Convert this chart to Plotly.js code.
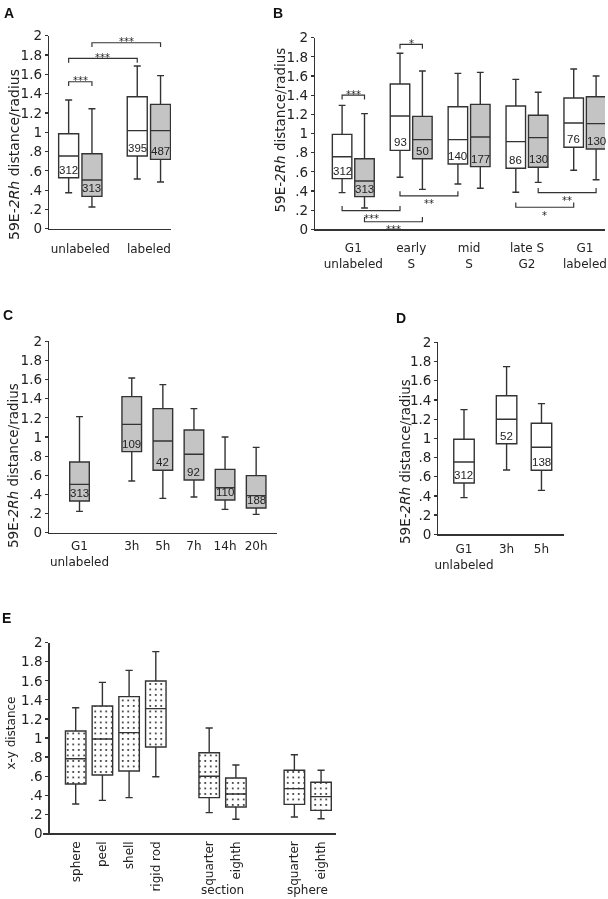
<!DOCTYPE html>
<html><head><meta charset="utf-8">
<script src="https://cdn.plot.ly/plotly-3.0.1.min.js"></script>
<style>html,body{margin:0;padding:0;background:#fff} #chart{filter:grayscale(1)}</style>
</head><body><div id="chart" style="width:608px;height:899px"></div>
<script>
// ---------------- DATA ----------------
// each box: [lower whisker, q1, median, q3, upper whisker]
const A_categories = ['unlabeled', 'labeled'];
const A_white = [[0.373, 0.528, 0.753, 0.984, 1.333], [0.515, 0.753, 1.016, 1.368, 1.686]];
const A_gray  = [[0.225, 0.335, 0.504, 0.777, 1.243], [0.484, 0.718, 1.016, 1.288, 1.586]];
const A_white_n = [312, 395];
const A_gray_n  = [313, 487];
// [fromGroup, fromSeries, toGroup, toSeries, level, label, side]
const A_brackets = [[0, 0, 0, 1, 1.523, '***', 'top'], [0, 0, 1, 0, 1.765, '***', 'top'], [0, 1, 1, 1, 1.927, '***', 'top']];

const B_categories = ['G1<br>unlabeled', 'early<br>S', 'mid<br>S', 'late S<br>G2', 'G1<br>labeled'];
const B_white = [[0.383, 0.529, 0.758, 0.991, 1.294], [0.543, 0.824, 1.183, 1.517, 1.837], [0.473, 0.682, 0.936, 1.28, 1.628], [0.386, 0.637, 0.915, 1.287, 1.565], [0.616, 0.856, 1.11, 1.37, 1.673]];
const B_gray  = [[0.223, 0.341, 0.504, 0.737, 1.207], [0.417, 0.737, 0.936, 1.179, 1.652], [0.428, 0.654, 0.963, 1.304, 1.638], [0.49, 0.647, 0.957, 1.19, 1.43], [0.518, 0.838, 1.103, 1.384, 1.6]];
const B_white_n = [312, 93, 140, 86, 76];
const B_gray_n  = [313, 50, 177, 130, 130];
const B_brackets = [[0, 0, 0, 1, 1.40, '***', 'top'], [1, 0, 1, 1, 1.93, '*', 'top'],
  [0, 0, 1, 0, 0.194, '***', 'bottom'], [0, 1, 1, 1, 0.079, '***', 'bottom'], [1, 0, 2, 0, 0.348, '**', 'bottom'],
  [3, 0, 4, 0, 0.23, '*', 'bottom'], [3, 1, 4, 1, 0.382, '**', 'bottom']];

const C_categories = ['G1<br>unlabeled', '3h', '5h', '7h', '14h', '20h'];
const C_gray = [[0.223, 0.331, 0.505, 0.739, 1.213], [0.54, 0.847, 1.132, 1.422, 1.617], [0.359, 0.652, 0.958, 1.296, 1.547], [0.373, 0.55, 0.819, 1.073, 1.296], [0.244, 0.341, 0.47, 0.662, 1.0], [0.192, 0.258, 0.387, 0.596, 0.892]];
const C_n = [313, 109, 42, 92, 110, 188];

const D_categories = ['G1<br>unlabeled', '3h', '5h'];
const D_white = [[0.382, 0.535, 0.753, 0.99, 1.299], [0.67, 0.944, 1.198, 1.444, 1.747], [0.458, 0.667, 0.906, 1.156, 1.361]];
const D_n = [312, 52, 138];

const E_categories = ['sphere', 'peel', 'shell', 'rigid rod', 'quarter', 'eighth', 'quarter', 'eighth'];
const E_groups = [0, 0, 0, 0, 1, 1, 2, 2];
const E_groupLabels = ['', 'section', 'sphere'];
const E_stats = [[0.308, 0.517, 0.783, 1.073, 1.318], [0.346, 0.612, 0.99, 1.336, 1.584], [0.374, 0.654, 1.056, 1.434, 1.71], [0.594, 0.906, 1.308, 1.598, 1.906], [0.217, 0.374, 0.598, 0.846, 1.105], [0.147, 0.276, 0.413, 0.58, 0.717], [0.171, 0.304, 0.469, 0.661, 0.825], [0.153, 0.241, 0.385, 0.535, 0.661]];

const Y_tickVals = [0, 0.2, 0.4, 0.6, 0.8, 1, 1.2, 1.4, 1.6, 1.8, 2];
const Y_tickText = ['0', '.2', '.4', '.6', '.8', '1', '1.2', '1.4', '1.6', '1.8', '2'];

// ---------------- STYLE / GEOMETRY ----------------
const W = 608, H = 899;
const LINE = '#333333', TXT = '#222222', GRAY = '#c4c4c4';
const SANS = 'DejaVu Sans', HELV = 'Liberation Sans';
const px = v => v / W, py = v => 1 - v / H;

const P = {
  A: {x0: 49, x1: 171, y0: 35.7, y1: 228.7, ticklen: 9},
  B: {x0: 315, x1: 605, y0: 37.7, y1: 229.3, ticklen: 7},
  C: {x0: 49, x1: 277, y0: 341.3, y1: 532.7, ticklen: 2},
  D: {x0: 438.3, x1: 564.3, y0: 342.3, y1: 534.3, ticklen: 3},
  E: {x0: 43, x1: 336, y0: 642.7, y1: 833.3, ticklen: 2, yaxisX: 48.3}
};
const posA = (g, s) => 31.3 + 68.6 * g + (s === undefined ? 0 : (s ? 11.65 : -11.65));
const posB = (g, s) => 38.3 + 57.9 * g + (s === undefined ? 0 : (s ? 11.2 : -11.2));
const posC = i => 30.5 + 31.1 * (i + (i > 0 ? 0.68 : 0));
const posD = i => 25.7 + 34.9 * (i + (i > 0 ? 0.22 : 0));
const E_shift = [0, 1, 2.19];
const posE = k => 32.7 + 26.7 * (k + E_shift[E_groups[k]]);

const traces = [];
const annotations = [];

function boxTrace(xa, ya, xs, stats, fill, width) {
  return {
    type: 'box', xaxis: xa, yaxis: ya, x: xs,
    lowerfence: stats.map(s => s[0]), q1: stats.map(s => s[1]), median: stats.map(s => s[2]),
    q3: stats.map(s => s[3]), upperfence: stats.map(s => s[4]),
    width: width, fillcolor: fill, line: {color: LINE, width: 1.4}, whiskerwidth: 0.35,
    boxpoints: false, hoverinfo: 'skip', showlegend: false
  };
}
function countLabels(xa, ya, xs, stats, ns) {
  ns.forEach((n, i) => annotations.push({
    xref: xa, yref: ya, x: xs[i], y: stats[i][1], text: String(n), showarrow: false,
    xanchor: 'center', yanchor: 'bottom', yshift: 0, font: {family: HELV, size: 11.5, color: TXT}
  }));
}
function brackets(xa, ya, list, posFn) {
  const bx = [], by = [];
  list.forEach(b => {
    const x1 = posFn(b[0], b[1]), x2 = posFn(b[2], b[3]);
    const d = b[6] === 'top' ? -0.045 : 0.05;
    bx.push(x1, x1, x2, x2, null);
    by.push(b[4] + d, b[4], b[4], b[4] + d, null);
    annotations.push({
      xref: xa, yref: ya, x: (x1 + x2) / 2, y: b[4], text: b[5], showarrow: false,
      xanchor: 'center', yanchor: 'middle', yshift: b[6] === 'top' ? 1 : -8,
      font: {family: SANS, size: 10, color: TXT}
    });
  });
  traces.push({type: 'scatter', mode: 'lines', xaxis: xa, yaxis: ya, x: bx, y: by,
    line: {color: LINE, width: 1.2}, hoverinfo: 'skip', showlegend: false, cliponaxis: false});
}

// Panel A
const A_wx = A_categories.map((c, g) => posA(g, 0));
const A_gx = A_categories.map((c, g) => posA(g, 1));
traces.push(boxTrace('x', 'y', A_wx, A_white, '#ffffff', 20));
traces.push(boxTrace('x', 'y', A_gx, A_gray, GRAY, 20));
countLabels('x', 'y', A_wx, A_white, A_white_n);
countLabels('x', 'y', A_gx, A_gray, A_gray_n);
brackets('x', 'y', A_brackets, posA);

// Panel B
const B_wx = B_categories.map((c, g) => posB(g, 0));
const B_gx = B_categories.map((c, g) => posB(g, 1));
traces.push(boxTrace('x2', 'y2', B_wx, B_white, '#ffffff', 19.5));
traces.push(boxTrace('x2', 'y2', B_gx, B_gray, GRAY, 19.5));
countLabels('x2', 'y2', B_wx, B_white, B_white_n);
countLabels('x2', 'y2', B_gx, B_gray, B_gray_n);
brackets('x2', 'y2', B_brackets, posB);

// Panel C
const C_x = C_categories.map((c, i) => posC(i));
traces.push(boxTrace('x3', 'y3', C_x, C_gray, GRAY, 19.6));
countLabels('x3', 'y3', C_x, C_gray, C_n);

// Panel D
const D_x = D_categories.map((c, i) => posD(i));
traces.push(boxTrace('x4', 'y4', D_x, D_white, '#ffffff', 20.5));
countLabels('x4', 'y4', D_x, D_white, D_n);

// Panel E: dotted fill via patterned bars beneath transparent boxes
const E_x = E_categories.map((c, k) => posE(k));
traces.push({
  type: 'bar', xaxis: 'x5', yaxis: 'y5', x: E_x, base: E_stats.map(s => s[1]), y: E_stats.map(s => s[3] - s[1]),
  width: 20.5, marker: {color: '#ffffff', line: {width: 0}, pattern: {shape: '.', fgcolor: '#222222', bgcolor: '#ffffff', size: 5.5, solidity: 0.1}},
  hoverinfo: 'skip', showlegend: false
});
traces.push(boxTrace('x5', 'y5', E_x, E_stats, 'rgba(0,0,0,0)', 20.5));
E_groupLabels.forEach((lab, g) => {
  if (!lab) return;
  const ks = E_groups.map((gg, k) => gg === g ? k : -1).filter(k => k >= 0);
  const cx = ks.reduce((a, k) => a + E_x[k], 0) / ks.length;
  annotations.push({xref: 'x5', yref: 'paper', x: cx, y: py(890), text: lab, showarrow: false,
    xanchor: 'center', yanchor: 'middle', font: {family: SANS, size: 12, color: TXT}});
});

// ---------------- AXES ----------------
function xAxis(p, anchor, vals, text, extra) {
  return Object.assign({
    domain: [px(p.x0), px(p.x1)], range: [0, p.x1 - p.x0], anchor: anchor,
    showline: true, linecolor: LINE, linewidth: 1.2, showgrid: false, zeroline: false,
    ticks: 'outside', ticklen: p.ticklen, tickcolor: 'rgba(0,0,0,0)',
    tickmode: 'array', tickvals: vals, ticktext: text, tickangle: 0,
    tickfont: {family: SANS, size: 12, color: TXT}, fixedrange: true
  }, extra || {});
}
function yAxis(p, anchor, extra) {
  return Object.assign({
    domain: [py(p.y1), py(p.y0)], range: [0, 2], anchor: anchor,
    showline: true, linecolor: LINE, linewidth: 1.2, showgrid: false, zeroline: false,
    ticks: 'outside', ticklen: 3, tickwidth: 1.2, tickcolor: LINE,
    tickmode: 'array', tickvals: Y_tickVals, ticktext: Y_tickText,
    tickfont: {family: SANS, size: 13.5, color: TXT}, fixedrange: true
  }, extra || {});
}

const layout = {
  width: W, height: H, margin: {l: 0, r: 0, t: 0, b: 0},
  paper_bgcolor: '#ffffff', plot_bgcolor: 'rgba(0,0,0,0)', showlegend: false,
  font: {family: SANS, color: TXT}, boxmode: 'overlay', barmode: 'overlay',
  xaxis: xAxis(P.A, 'y', A_categories.map((c, g) => posA(g)), A_categories),
  yaxis: yAxis(P.A, 'x'),
  xaxis2: xAxis(P.B, 'y2', B_categories.map((c, g) => posB(g)), B_categories),
  yaxis2: yAxis(P.B, 'x2'),
  xaxis3: xAxis(P.C, 'y3', C_x, C_categories),
  yaxis3: yAxis(P.C, 'x3'),
  xaxis4: xAxis(P.D, 'y4', D_x, D_categories),
  yaxis4: yAxis(P.D, 'x4'),
  xaxis5: xAxis(P.E, 'y5', E_x, E_categories, {tickangle: -90, tickfont: {family: SANS, size: 12, color: TXT}}),
  yaxis5: yAxis(P.E, 'free', {position: px(P.E.yaxisX)}),
  annotations: annotations
};

// panel letters
[['A', 9, 13], ['B', 277.5, 12.8], ['C', 8, 315.3], ['D', 401, 318], ['E', 6.2, 618.3]].forEach(l => {
  annotations.push({xref: 'paper', yref: 'paper', x: px(l[1]), y: py(l[2]), text: '<b>' + l[0] + '</b>',
    showarrow: false, xanchor: 'center', yanchor: 'middle', font: {family: HELV, size: 14, color: '#111'}});
});
// y-axis titles
const YT = '59E-<i>2Rh</i> distance/radius';
[[YT, 14, 155, 14], [YT, 279.5, 130, 13.5], [YT, 13, 466, 13.5], [YT, 405, 461, 13.5], ['x-y distance', 10.5, 733, 12]].forEach(t => {
  annotations.push({xref: 'paper', yref: 'paper', x: px(t[1]), y: py(t[2]), text: t[0], textangle: -90,
    showarrow: false, xanchor: 'center', yanchor: 'middle', font: {family: SANS, size: t[3], color: TXT}});
});

Plotly.newPlot('chart', traces, layout, {staticPlot: true, displayModeBar: false});
</script></body></html>
